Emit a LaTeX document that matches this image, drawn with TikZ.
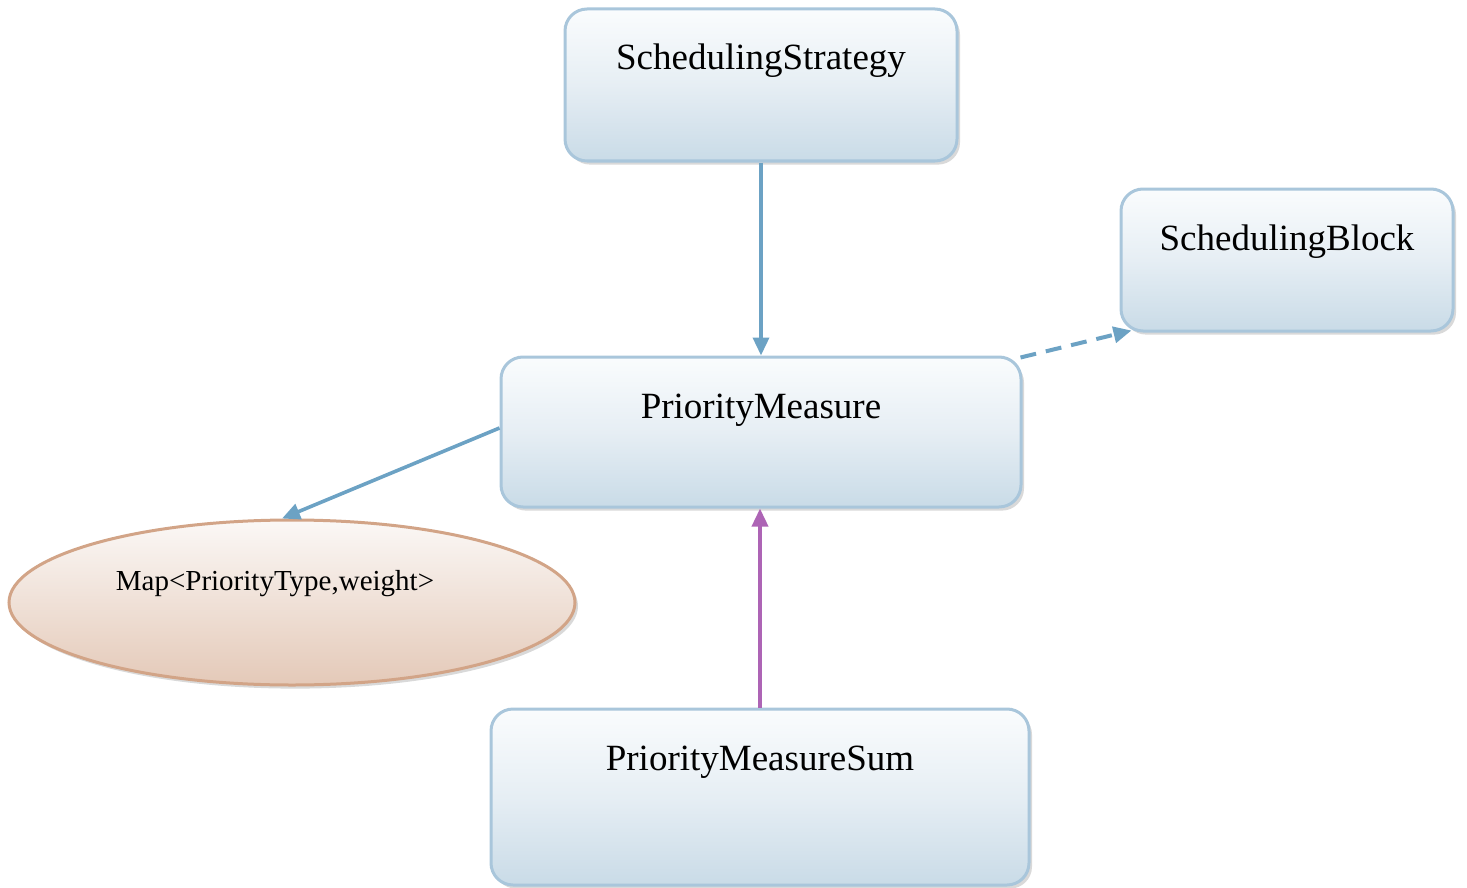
\documentclass[tikz,border=0pt]{standalone}
\usepackage{fontspec}
\setmainfont{Liberation Serif}
\usetikzlibrary{arrows.meta,shadows,shapes.geometric}

\definecolor{boxline}{HTML}{A9C6DB}
\definecolor{boxtop}{HTML}{FAFCFD}
\definecolor{boxmid}{HTML}{E6EEF4}
\definecolor{boxbottom}{HTML}{C9DBE7}
\definecolor{ovalline}{HTML}{D2A487}
\definecolor{ovaltop}{HTML}{FBF8F6}
\definecolor{ovalbottom}{HTML}{E4C9B8}
\definecolor{linkblue}{HTML}{6CA2C4}
\definecolor{linkpurple}{HTML}{AD64B5}

\begin{document}
\begin{tikzpicture}[x=0.5pt,y=-0.5pt,
  softshadow/.style={drop shadow={shadow xshift=1.5pt, shadow yshift=-1.8pt, opacity=0.3, fill=black!50}},
  classbox/.style={draw=boxline, line width=1.5pt, rounded corners=11pt,
    top color=boxtop, bottom color=boxbottom, middle color=boxmid,
    inner sep=0pt, align=center,
    font=\fontsize{18.5}{22}\selectfont, softshadow},
  oval/.style={ellipse, draw=ovalline, line width=1.5pt, inner sep=0pt,
    top color=ovaltop, bottom color=ovalbottom, softshadow},
  tip/.style={-{Triangle[length=9pt,width=8pt]}},
  link/.style={draw=linkblue, line width=1.8pt, tip},
  dashlink/.style={link, line width=2pt, dash pattern=on 8pt off 5pt},
  inherit/.style={draw=linkpurple, line width=1.8pt, tip}]

  \useasboundingbox (0,0) rectangle (1467,888);

  % classes
  \node[classbox, text width=196pt, text height=30.5pt, text depth=45.5pt]
    (strategy) at (761,85) {SchedulingStrategy};
  \node[classbox, text width=166pt, text height=30.5pt, text depth=40.5pt]
    (block) at (1287,260) {SchedulingBlock};
  \node[classbox, text width=260pt, text height=30.5pt, text depth=44.5pt]
    (measure) at (761,432) {PriorityMeasure};
  \node[classbox, text width=269pt, text height=30.5pt, text depth=57.5pt]
    (measuresum) at (760,797) {PriorityMeasureSum};

  % map attribute
  \node[oval, minimum width=283pt, minimum height=82.5pt] (map) at (292,602.5) {};
  \node[font=\fontsize{14.5}{17}\selectfont, anchor=base, inner sep=0pt]
    (maptext) at (275,590) {Map<PriorityType,weight>};

  % connectors
  \draw[link] (strategy.south) -- (measure.north);
  \draw[dashlink] ([xshift=-1pt,yshift=-1pt]measure.north east) -- ([xshift=6pt,yshift=1pt]block.south west);
  \draw[link] ([yshift=2pt]measure.west) -- ([xshift=-5pt]map.north);
  \draw[inherit] (measuresum.north) -- (measuresum.north |- measure.south);
\end{tikzpicture}
\end{document}
